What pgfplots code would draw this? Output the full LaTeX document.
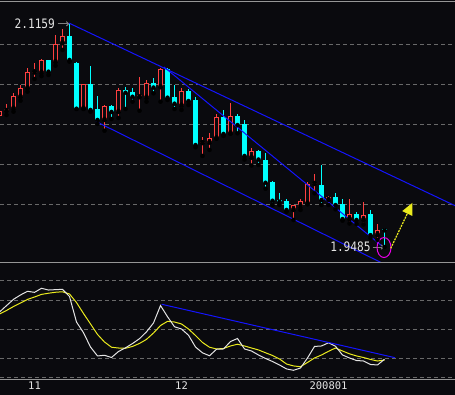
\documentclass[border=0pt]{standalone}
\usepackage{pgfplots}
\pgfplotsset{compat=1.18}
\usepackage{pgfplotstable}
\usetikzlibrary{arrows.meta}
\usepackage{fontspec}
\setmainfont{DejaVu Sans}
\newfontfamily\monofont{DejaVu Sans Mono}
\definecolor{bg}{RGB}{10,10,14}
\definecolor{cred}{RGB}{255,64,64}
\definecolor{ccyan}{RGB}{0,255,255}
\definecolor{cblue}{RGB}{20,20,255}
\definecolor{gridc}{RGB}{105,105,105}
\definecolor{linec}{RGB}{150,150,150}
\definecolor{kline}{RGB}{228,228,228}
\definecolor{dline}{RGB}{235,235,30}
\definecolor{cmag}{RGB}{235,0,235}

\pgfplotstableread{
i o h l c
0 2.0468 2.0542 2.0453 2.0505
1 2.0505 2.0558 2.0475 2.0522
2 2.0522 2.0640 2.0500 2.0618
3 2.0610 2.0700 2.0582 2.0678
4 2.0675 2.0828 2.0650 2.0800
5 2.0794 2.0867 2.0745 2.0801
6 2.0792 2.0893 2.0767 2.0885
8 2.0872 2.1075 2.0845 2.1010
9 2.1013 2.1118 2.0963 2.1068
12 2.0522 2.0711 2.0520 2.0708
15 2.0438 2.0550 2.0357 2.0543
17 2.0498 2.0678 2.0453 2.0663
20 2.0608 2.0763 2.0507 2.0623
21 2.0605 2.0738 2.0575 2.0713
23 2.0683 2.0825 2.0575 2.0820
26 2.0545 2.0675 2.0513 2.0655
29 2.0264 2.0310 2.0168 2.0271
30 2.0267 2.0338 2.0213 2.0300
31 2.0300 2.0480 2.0298 2.0458
33 2.0336 2.0563 2.0335 2.0468
36 2.0155 2.0228 2.0096 2.0205
42 1.9763 1.9800 1.9688 1.9798
43 1.9788 1.9845 1.9763 1.9832
44 1.9810 1.9975 1.9805 1.9958
45 1.9958 2.0036 1.9888 1.9965
47 1.9838 1.9868 1.9800 1.9860
50 1.9693 1.9843 1.9661 1.9731
52 1.9688 1.9825 1.9654 1.9723
54 1.9575 1.9658 1.9538 1.9616
}\redcandles

\pgfplotstableread{
i o h l c
7 2.0885 2.0891 2.0775 2.0800
10 2.1068 2.1159 2.0875 2.0888
11 2.0863 2.0869 2.0520 2.0522
13 2.0708 2.0843 2.0500 2.0513
14 2.0522 2.0618 2.0408 2.0438
16 2.0543 2.0550 2.0445 2.0498
18 2.0663 2.0688 2.0520 2.0642
19 2.0648 2.0678 2.0575 2.0612
22 2.0713 2.0753 2.0638 2.0681
24 2.0820 2.0825 2.0588 2.0605
25 2.0610 2.0700 2.0520 2.0560
27 2.0655 2.0672 2.0550 2.0580
28 2.0588 2.0608 2.0233 2.0250
32 2.0458 2.0513 2.0318 2.0333
34 2.0468 2.0483 2.0338 2.0400
35 2.0408 2.0441 2.0141 2.0168
37 2.0205 2.0216 2.0100 2.0141
38 2.0138 2.0190 1.9922 1.9967
39 1.9973 1.9982 1.9800 1.9832
40 1.9838 1.9892 1.9800 1.9825
41 1.9832 1.9843 1.9750 1.9763
46 1.9950 2.0100 1.9800 1.9838
48 1.9862 1.9892 1.9768 1.9800
49 1.9808 1.9843 1.9683 1.9695
51 1.9731 1.9751 1.9658 1.9688
53 1.9733 1.9763 1.9553 1.9574
55 1.9618 1.9630 1.9485 1.9610
}\cyancandles

\pgfplotstableread{
i k d
0 67.7 65.7
1 74.3 69.3
2 80.8 73.4
3 85.3 77.0
4 89.1 80.7
5 88.0 83.2
6 92.2 85.9
7 90.4 87.1
8 90.8 88.1
9 91.1 88.6
10 83.7 86.3
11 57.4 77.5
12 46.4 66.2
13 31.6 55.4
14 22.4 44.6
15 23.1 36.8
16 20.8 31.4
17 27.0 30.6
18 30.8 30.3
19 35.2 32.2
20 40.2 35.3
21 47.3 39.5
22 56.4 46.1
23 74.4 53.8
24 62.9 58.1
25 52.5 57.4
26 50.2 55.4
27 43.8 50.2
28 31.6 43.5
29 25.6 36.3
30 22.6 31.4
31 29.3 29.6
32 29.6 30.1
33 37.3 32.7
34 40.4 34.5
35 29.6 32.7
36 27.5 30.6
37 23.4 28.6
38 19.8 25.7
39 16.7 22.9
40 13.1 19.3
41 9.0 14.1
42 7.6 12.1
43 10.0 11.3
44 20.3 15.7
45 32.2 20.3
46 32.7 23.4
47 36.0 27.2
48 32.4 30.6
49 23.4 27.5
50 20.3 24.6
51 17.7 22.4
52 17.2 20.8
53 13.6 18.8
54 13.1 17.2
55 19.0 18.2
}\kdj

\pgfplotsset{
  candle/.style 2 args={only marks, mark=none, forget plot,
    error bars/.cd, y dir=plus, y explicit, error mark=none,
    error bar style={draw=#1, line width=#2}},
}

\begin{document}
\begin{tikzpicture}
\fill[bg] (0,0) rectangle (455pt,395pt);
\useasboundingbox (0,0) rectangle (455pt,395pt);
\begin{axis}[
  at={(0pt,132.5pt)}, anchor=south west, scale only axis,
  width=455pt, height=261.5pt,
  xmin=0.0714, xmax=65.071, ymin=1.93688, ymax=2.13300,
  axis line style={draw=none},
  xtick=\empty, ytick={1.98,2.01,2.04,2.07,2.10}, yticklabels={},
  major tick length=0pt,
  ymajorgrids, grid style={gridc, dash pattern=on 4pt off 3pt, line width=1pt},
  extra y ticks={1.93700,2.13290}, extra y tick labels={},
  extra y tick style={grid=major, major grid style={linec, solid, line width=1pt}},
]
% wicks
\addplot[candle={cred}{1pt}] table[x=i, y=l, y error plus expr={\thisrow{h}-\thisrow{l}}] {\redcandles};
\addplot[candle={ccyan}{1pt}] table[x=i, y=l, y error plus expr={\thisrow{h}-\thisrow{l}}] {\cyancandles};
% bodies
\addplot[candle={cred}{5pt}] table[x=i, y=o, y error plus expr={\thisrow{c}-\thisrow{o}}] {\redcandles};
\addplot[candle={bg}{3pt}] table[x=i, y expr={\thisrow{o}+0.00075}, y error plus expr={max(\thisrow{c}-\thisrow{o}-0.0015,0)}] {\redcandles};
\addplot[candle={ccyan}{5pt}] table[x=i, y=c, y error plus expr={\thisrow{o}-\thisrow{c}}] {\cyancandles};
% channel lines
\addplot[cblue, line width=1pt] coordinates {(9.9,2.1165) (66,1.9772)};
\addplot[cblue, line width=1pt] coordinates {(13.79,2.0426) (54.64,1.9365)};
\addplot[cblue, line width=1pt] coordinates {(23.5,2.0835) (54.64,1.94925)};
% annotations
\node[anchor=east, inner sep=0pt, text=kline, font=\monofont\fontsize{13}{14}\selectfont] at (axis cs:7.95,2.1159) {\scalebox{0.86}[1]{2.1159}};
\draw[gray, line width=1pt, -{To[length=3pt,width=5pt]}] (axis cs:8.3,2.1159) -- (axis cs:9.93,2.1159);
\node[anchor=east, inner sep=0pt, text=kline, font=\monofont\fontsize{13}{14}\selectfont] at (axis cs:53.05,1.9485) {\scalebox{0.86}[1]{1.9485}};
\draw[gray, line width=1pt, -{To[length=3pt,width=5pt]}] (axis cs:53.3,1.9485) -- (axis cs:54.9,1.9485);
\draw[cmag, line width=1pt] (axis cs:54.93,1.9481) ellipse [x radius=7pt, y radius=10pt];
\draw[dline, line width=1.2pt, dash pattern=on 2pt off 1pt, -{Triangle[length=12pt,width=11pt]}] (axis cs:55.89,1.9475) -- (axis cs:59.0,1.9817);
\end{axis}

\begin{axis}[
  at={(0pt,15pt)}, anchor=south west, scale only axis,
  width=455pt, height=117.5pt,
  xmin=0.0714, xmax=65.071, ymin=-2.4, ymax=118.8,
  axis line style={draw=none},
  ytick={0,20,50,80,100}, yticklabels={},
  xtick={5,26,47}, xticklabels={11,12,200801},
  x tick label style={text=kline, font=\monofont\fontsize{10.5}{12}\selectfont, inner sep=2pt},
  major tick length=0pt,
  ymajorgrids, grid style={gridc, dash pattern=on 4pt off 3pt, line width=1pt},
  extra y ticks={-2.3,118.7}, extra y tick labels={},
  extra y tick style={grid=major, major grid style={linec, solid, line width=1pt}},
]
\addplot[dline, line width=1pt] table[x=i, y=d] {\kdj};
\addplot[kline, line width=1pt] table[x=i, y=k] {\kdj};
\addplot[cblue, line width=1pt] coordinates {(23.17,75.7) (56.5,20.6)};
\end{axis}
\end{tikzpicture}
\end{document}
